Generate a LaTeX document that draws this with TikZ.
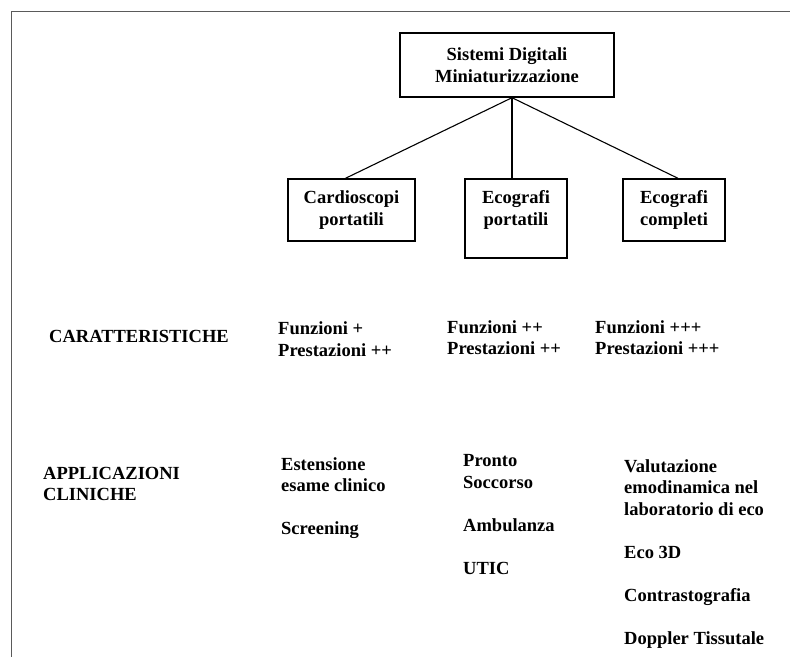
\documentclass[tikz,border=0pt]{standalone}
\usepackage{fontspec}
\setmainfont{Liberation Serif}
\usepackage{tikz}
\definecolor{framegray}{HTML}{5A5A5A}
\newcommand{\BoldText}{\fontsize{18.5}{21.5}\selectfont\bfseries}

\begin{document}
\begin{tikzpicture}[x=1pt,y=-1pt,font=\BoldText,
  box/.style={draw,line width=1.4pt,align=center,inner sep=0pt},
  txt/.style={anchor=base west,align=left,inner sep=0pt},
  link/.style={line width=1.1pt}]
  \useasboundingbox (0,0) rectangle (790,657);
  \draw[framegray,line width=1pt] (790,11) -- (11,11) -- (11,657);

  % tree
  \node[box,minimum width=214,minimum height=64] (sys) at (507,65) {Sistemi Digitali\\Miniaturizzazione};
  \node[box,minimum width=127,minimum height=62] (card) at (351.5,210) {Cardioscopi\\portatili};
  \node[box,minimum width=102,minimum height=79] (ecop) at (516,218.5) {Ecografi\\portatili\\\mbox{}};
  \node[box,minimum width=102,minimum height=62] (ecoc) at (674,210) {Ecografi\\completi};
  \coordinate (hub) at ([xshift=5pt]sys.south);
  \draw[link] (hub) -- ([xshift=-6pt]card.north);
  \draw[link] (hub) -- (hub |- ecop.north);
  \draw[link] (hub) -- ([xshift=4pt]ecoc.north);

  % rows (base = last line)
  \node[txt] (carat) at (49,342) {CARATTERISTICHE};
  \node[txt] (fcard) at (278,356) {Funzioni +\\Prestazioni ++};
  \node[txt] (fecop) at (447,354.5) {Funzioni ++\\Prestazioni ++};
  \node[txt] (fecoc) at (595,354.5) {Funzioni +++\\Prestazioni +++};

  \node[txt] (appl) at (43,500.5) {APPLICAZIONI\\CLINICHE};
  \node[txt] (acard) at (281,534.5) {Estensione\\esame clinico\\[21.5pt]Screening};
  \node[txt] (aecop) at (463,574) {Pronto\\Soccorso\\[21.5pt]Ambulanza\\[21.5pt]UTIC};
  \node[txt] (aecoc) at (624,644) {Valutazione\\emodinamica nel\\laboratorio di eco\\[21.5pt]Eco 3D\\[21.5pt]Contrastografia\\[21.5pt]Doppler Tissutale};
\end{tikzpicture}
\end{document}
